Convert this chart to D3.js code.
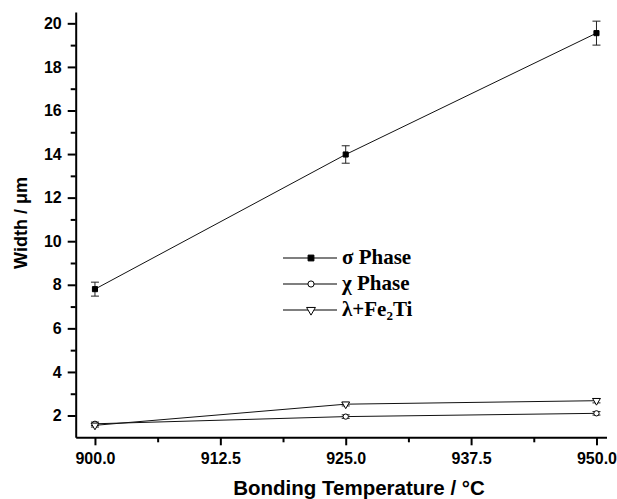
<!DOCTYPE html>
<html><head><meta charset="utf-8">
<script src="https://cdn.jsdelivr.net/npm/d3@7"></script>
<style>body{margin:0;background:#fff}svg{display:block}</style>
</head><body>
<svg id="c" width="617" height="499"></svg>
<script>
const temps = [900, 925, 950];
const sigma = [7.8, 13.98, 19.55];
const sigmaErr = [0.32, 0.4, 0.55];
const chi = [1.62, 1.95, 2.1];
const chiErr = [0.08, 0.08, 0.08];
const lambda = [1.55, 2.52, 2.68];
const lambdaErr = [0.08, 0.08, 0.1];
const xTicks = [900, 912.5, 925, 937.5, 950];
const xMinor = [906.25, 918.75, 931.25, 943.75];
const yTicks = [2, 4, 6, 8, 10, 12, 14, 16, 18, 20];
const yMinor = [3, 5, 7, 9, 11, 13, 15, 17, 19];
const seriesNames = ["σ Phase", "χ Phase", "λ+Fe"];

const svg = d3.select("#c");
const x = d3.scaleLinear().domain([898.08, 951]).range([75.7, 606.5]);
const y = d3.scaleLinear().domain([1, 20.52]).range([437.3, 12]);

const sans = "'Liberation Sans', Arial, sans-serif";
const serif = "'Liberation Serif', 'Times New Roman', serif";

// axes
const xAxis = svg.append("g").attr("transform", "translate(0,437.3)")
  .call(d3.axisBottom(x).tickValues(xTicks).tickSize(8).tickSizeOuter(0).tickPadding(7).tickFormat(d3.format(".1f")));
const xAxisMinor = svg.append("g").attr("transform", "translate(0,437.3)")
  .call(d3.axisBottom(x).tickValues(xMinor).tickSize(5).tickSizeOuter(0).tickFormat(""));
const yAxis = svg.append("g").attr("transform", "translate(75.7,0)")
  .call(d3.axisLeft(y).tickValues(yTicks).tickSize(8).tickSizeOuter(0).tickPadding(6).tickFormat(d3.format("d")));
const yAxisMinor = svg.append("g").attr("transform", "translate(75.7,0)")
  .call(d3.axisLeft(y).tickValues(yMinor).tickSize(5).tickSizeOuter(0).tickFormat(""));
[xAxis, xAxisMinor, yAxis, yAxisMinor].forEach(g => {
  g.select(".domain").attr("stroke", "#000").attr("stroke-width", 2);
  g.selectAll(".tick line").attr("stroke", "#000").attr("stroke-width", 2);
  g.selectAll(".tick text").attr("font-family", sans).attr("font-weight", "bold").attr("font-size", 16).attr("fill", "#000");
});
xAxisMinor.select(".domain").remove();
yAxisMinor.select(".domain").remove();

// axis titles
svg.append("text").attr("x", 359).attr("y", 495).attr("text-anchor", "middle")
  .attr("font-family", sans).attr("font-weight", "bold").attr("font-size", 20.5)
  .text("Bonding Temperature / °C");
svg.append("text").attr("transform", "translate(27,223) rotate(-90)").attr("text-anchor", "middle")
  .attr("font-family", sans).attr("font-weight", "bold").attr("font-size", 18)
  .text("Width / μm");

const line = d3.line().x(d => x(d[0])).y(d => y(d[1]));
const series = [
  {vals: sigma, err: sigmaErr, sym: d3.symbolSquare, size: 26, fill: "#000"},
  {vals: chi, err: chiErr, sym: d3.symbolCircle, size: 22, fill: "#fff"},
  {vals: lambda, err: lambdaErr, sym: d3.symbolTriangle, size: 26, fill: "#fff", rot: 180}
];

series.forEach(s => {
  const pts = temps.map((t, i) => [t, s.vals[i], s.err[i]]);
  svg.append("path").datum(pts).attr("d", line).attr("fill", "none").attr("stroke", "#111").attr("stroke-width", 1);
  const eb = svg.append("g");
  pts.forEach(p => {
    const cx = x(p[0]);
    eb.append("line").attr("x1", cx).attr("x2", cx).attr("y1", y(p[1] - p[2])).attr("y2", y(p[1] + p[2]))
      .attr("stroke", "#222").attr("stroke-width", 1);
    [p[1] - p[2], p[1] + p[2]].forEach(v => {
      eb.append("line").attr("x1", cx - 4).attr("x2", cx + 4).attr("y1", y(v)).attr("y2", y(v))
        .attr("stroke", "#222").attr("stroke-width", 1);
    });
  });
  svg.append("g").selectAll("path").data(pts).join("path")
    .attr("d", d3.symbol().type(s.sym).size(s.size))
    .attr("transform", d => `translate(${x(d[0])},${y(d[1])}) rotate(${s.rot || 0})`)
    .attr("fill", s.fill).attr("stroke", "#000").attr("stroke-width", 1);
});

// legend
const legY = [258, 284, 310];
series.forEach((s, i) => {
  const g = svg.append("g").attr("transform", `translate(0,${legY[i]})`);
  g.append("line").attr("x1", 283).attr("x2", 337).attr("y1", 0).attr("y2", 0).attr("stroke", "#000").attr("stroke-width", 1.2);
  g.append("path").attr("d", d3.symbol().type(s.sym).size(s.size + 8)())
    .attr("transform", `translate(311,0) rotate(${s.rot || 0})`)
    .attr("fill", s.fill).attr("stroke", "#000").attr("stroke-width", 1);
  const t = g.append("text").attr("x", 342).attr("y", 6).attr("font-family", serif)
    .attr("font-weight", "bold").attr("font-size", 21).attr("fill", "#000");
  t.append("tspan").text(seriesNames[i]);
  if (i === 2) {
    t.append("tspan").attr("font-size", 13).attr("dy", 4).text("2");
    t.append("tspan").attr("dy", -4).text("Ti");
  }
});
</script>
</body></html>
